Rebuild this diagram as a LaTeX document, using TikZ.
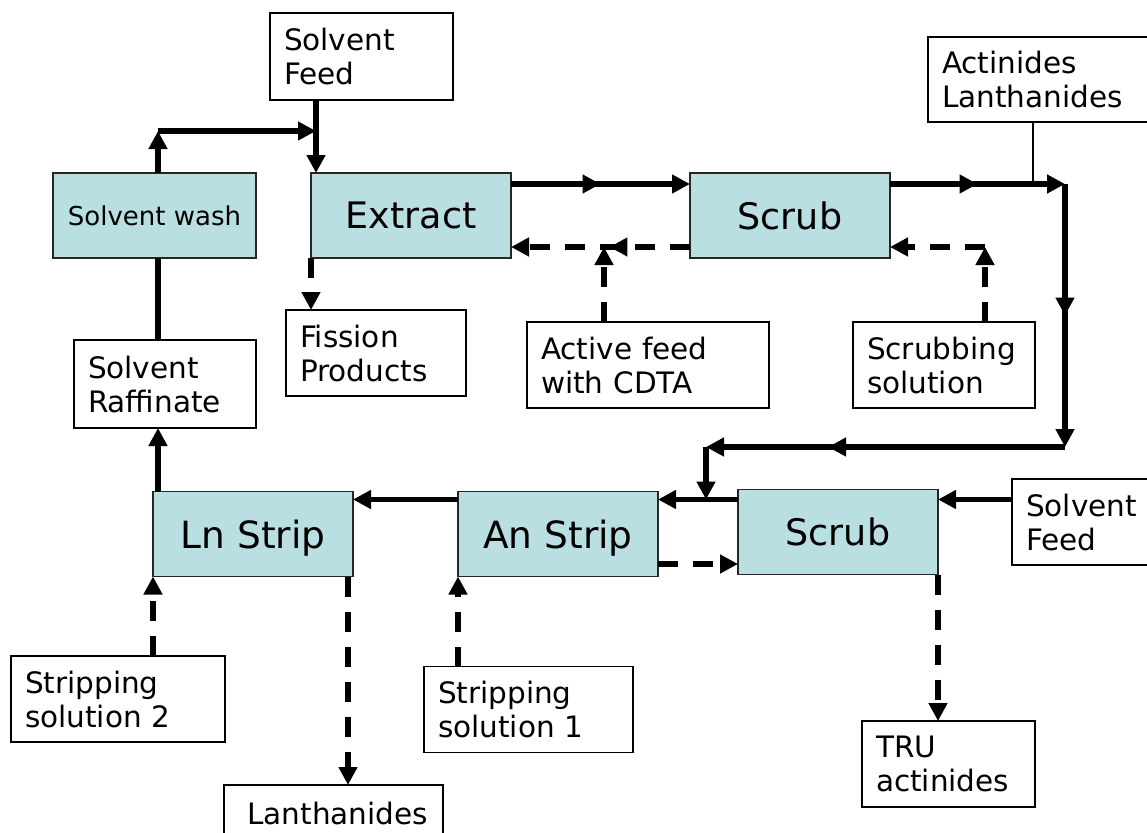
\documentclass[tikz,border=0pt]{standalone}
\usepackage{fontspec}
\setmainfont{DejaVu Sans}
\usetikzlibrary{arrows.meta,calc,decorations.markings}
\definecolor{procblue}{RGB}{186,223,226}
\begin{document}
\begin{tikzpicture}[x=1pt,y=-1pt,
  proc/.style={draw=black!85, line width=1.3pt, fill=procblue, minimum width=200pt, minimum height=85pt, inner sep=0pt, outer sep=0pt, text depth=0pt, font=\fontsize{36.5}{40}\selectfont},
  lab/.style={draw=black, line width=1.3pt, fill=white, inner xsep=14pt, inner ysep=0pt, outer sep=0pt, align=left, minimum height=86pt, font=\fontsize{29.5}{34}\selectfont},
  flow/.style={line width=5.5pt, -{Triangle[length=18pt,width=18pt]}},
  dflow/.style={line width=5.5pt, dash pattern=on 20pt off 15pt, -{Triangle[length=18pt,width=18pt]}},
  midtip/.style={postaction={decorate}, decoration={markings, mark=at position #1 with {\arrow{Triangle[length=18pt,width=18pt]}}}},
]
\path[use as bounding box, fill=white] (0,0) rectangle (1147,832);

% process boxes
\node[proc, minimum width=203pt, font=\fontsize{26}{30}\selectfont] (wash) at (154.5,215.5) {Solvent wash};
\node[proc] (ext)  at (411,215.5) {Extract};
\node[proc] (scr1) at (790,215.5) {Scrub};
\node[proc, font=\fontsize{37.5}{40}\selectfont] (ln)   at (253,534) {Ln Strip};
\node[proc, font=\fontsize{37.5}{40}\selectfont] (an)   at (558,534) {An Strip};
\node[proc] (scr2) at (838,532) {Scrub};

% label boxes
\node[lab, text width=155pt, minimum height=87pt] (sf1) at (361.5,56.5) {Solvent\\Feed};
\node[lab, text width=209pt, minimum height=85pt] (act) at (1046.5,79.5) {Actinides\\Lanthanides};
\node[lab, text width=152pt] (fis) at (376,353) {Fission\\Products};
\node[lab, text width=214pt] (cdta) at (648,365) {Active feed\\with CDTA};
\node[lab, text width=154pt] (scsol) at (944,365) {Scrubbing\\solution};
\node[lab, text width=154pt, minimum height=88pt] (raff) at (165,384) {Solvent\\Raffinate};
\node[lab, text width=130pt] (sf2) at (1091,522) {Solvent\\Feed};
\node[lab, text width=186pt] (ss2) at (118,699) {Stripping\\solution 2};
\node[lab, text width=181pt] (ss1) at (528.5,709.5) {Stripping\\solution 1};
\node[lab, text width=145pt] (tru) at (948.5,764) {TRU\\actinides};
\node[lab, text width=189pt, inner xsep=15pt, align=right, minimum height=56pt] (lan) at (333.5,813) {Lanthanides};

% helper coordinates
\coordinate (vx) at (158,0);
\coordinate (cA) at (158,131);
\coordinate (eT) at ($(ext.north west)+(5,0)$);
\coordinate (cB) at (eT |- cA);
\coordinate (eR) at ($(ext.north east)+(0,11)$);
\coordinate (cC) at (1065,184);
\coordinate (aB) at ($(act.south west)+(105,0)$);
\coordinate (cD) at (1065,447);
\coordinate (cE) at (706,447);
\coordinate (sL) at ($(scr2.north west)+(0,10)$);
\coordinate (dY) at (0,247);
\coordinate (aF) at (604,0);
\coordinate (sS) at (985,0);
\coordinate (dB) at (0,564);
\coordinate (lx) at ($(ln.south east)+(-5,0)$);

% solid flows
\draw[flow] (vx |- wash.north) -- (cA);
\draw[flow] (cA) -- (cB);
\draw[flow] (eT |- sf1.south) -- (eT);
\draw[flow, midtip=0.5] (eR) -- (eR -| scr1.west);
\draw[flow, midtip=0.5] (eR -| scr1.east) -- (cC);
\draw[line width=1.2pt] (aB) -- (aB |- cC);
\draw[flow, midtip=0.5] (cC) -- (cD);
\draw[flow, midtip=0.66] (cD) -- (cE);
\draw[flow] (cE) -- (cE |- sL);
\draw[flow] (sL) -- (sL -| an.east);
\draw[flow] (an.west |- sL) -- (sL -| ln.east);
\draw[flow] (sf2.west |- sL) -- (sL -| scr2.east);
\draw[flow] (vx |- ln.north) -- (vx |- raff.south);
\draw[line width=5.5pt] (vx |- raff.north) -- (vx |- wash.south);

% dashed flows
\draw[dflow, midtip=0.45] (scr1.west |- dY) -- (ext.east |- dY);
\draw[dflow] (aF |- cdta.north) -- (aF |- dY);
\draw[dflow] (sS |- scsol.north) -- (sS |- dY);
\draw[dflow] (sS |- dY) -- (scr1.east |- dY);
\draw[dflow] (ext.south west) -- (ext.south west |- fis.north);
\draw[dflow] (an.east |- dB) -- (scr2.west |- dB);
\draw[dflow] (ln.south west |- ss2.north) -- (ln.south west);
\draw[dflow] (lx) -- (lx |- lan.north);
\draw[dflow] (an.south west |- ss1.north) -- (an.south west);
\draw[dflow] (scr2.south east) -- (scr2.south east |- tru.north);
\end{tikzpicture}
\end{document}
